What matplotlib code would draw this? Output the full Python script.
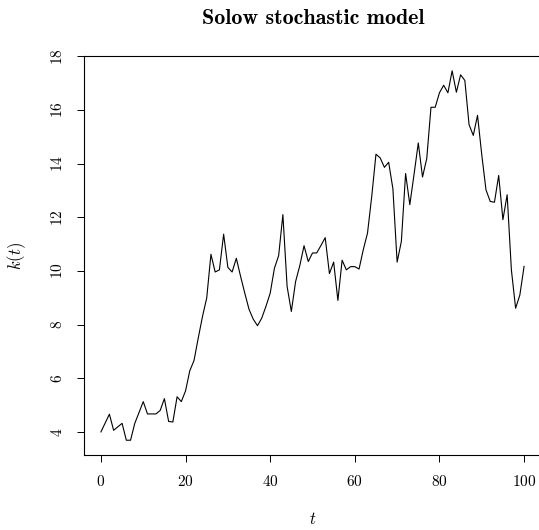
import numpy as np
import matplotlib
matplotlib.use("Agg")
import matplotlib.pyplot as plt

# values
t = list(range(0, 101))
k = [4.00, 4.33, 4.66, 4.06, 4.19, 4.32, 3.69, 3.69, 4.32, 4.72,
     5.13, 4.67, 4.67, 4.67, 4.80, 5.24, 4.39, 4.37, 5.31, 5.13,
     5.53, 6.28, 6.66, 7.50, 8.30, 8.99, 10.62, 9.96, 10.04, 11.37,
     10.13, 9.96, 10.47, 9.80, 9.17, 8.57, 8.20, 7.96, 8.24, 8.68,
     9.17, 10.10, 10.57, 12.10, 9.42, 8.49, 9.60, 10.20, 10.94, 10.35,
     10.67, 10.67, 10.95, 11.24, 9.90, 10.33, 8.90, 10.40, 10.04, 10.16,
     10.16, 10.07, 10.79, 11.41, 12.78, 14.35, 14.21, 13.86, 14.05, 13.06,
     10.33, 11.10, 13.63, 12.47, 13.60, 14.77, 13.50, 14.19, 16.10, 16.10,
     16.64, 16.92, 16.64, 17.46, 16.66, 17.31, 17.10, 15.45, 15.05, 15.80,
     14.33, 13.02, 12.59, 12.56, 13.56, 11.91, 12.84, 10.04, 8.61, 9.10,
     10.17]
xticks = [0, 20, 40, 60, 80, 100]
yticks = [4, 6, 8, 10, 12, 14, 16, 18]

plt.rcParams['font.family'] = 'serif'
plt.rcParams['font.serif'] = ['cmr10', 'DejaVu Serif']
plt.rcParams['mathtext.fontset'] = 'cm'
plt.rcParams['axes.unicode_minus'] = False
plt.rcParams['axes.formatter.use_mathtext'] = True

fig = plt.figure(figsize=(5.39, 5.30), dpi=100)
W, H = 539, 530
left, right, top, bottom = 84, 541, 56, 455
ax = fig.add_axes([left / W, 1 - bottom / H, (right - left) / W, (bottom - top) / H])

ax.plot(t, k, color='black', linewidth=0.8)

# R-style 4% axis extension
xr = max(t) - min(t)
yr = max(k) - min(k)
ax.set_xlim(min(t) - 0.04 * xr, max(t) + 0.04 * xr)
ax.set_ylim(min(k) - 0.04 * yr, max(k) + 0.04 * yr)

ax.set_xticks(xticks)
ax.set_yticks(yticks)
ax.tick_params(direction='out', length=5, width=0.7, labelsize=11, pad=9)
ax.tick_params(axis='y', labelrotation=90)
for lab in ax.get_yticklabels():
    lab.set_va('center')
for sp in ax.spines.values():
    sp.set_linewidth(0.8)

ax.set_xlabel(r'$t$', fontsize=12)
ax.xaxis.set_label_coords(0.5, (bottom - 519) / (bottom - top))
ax.xaxis.label.set_va('center')
ax.set_ylabel(r'$k(t)$', fontsize=12)
ax.yaxis.set_label_coords((17 - left) / (right - left), 0.5)
ax.yaxis.label.set_va('center')

fig.text(313 / W, 1 - 23.5 / H, 'Solow stochastic model', family='cmb10',
         fontsize=15.8, ha='center', va='baseline')

plt.savefig('out.png', dpi=100)
